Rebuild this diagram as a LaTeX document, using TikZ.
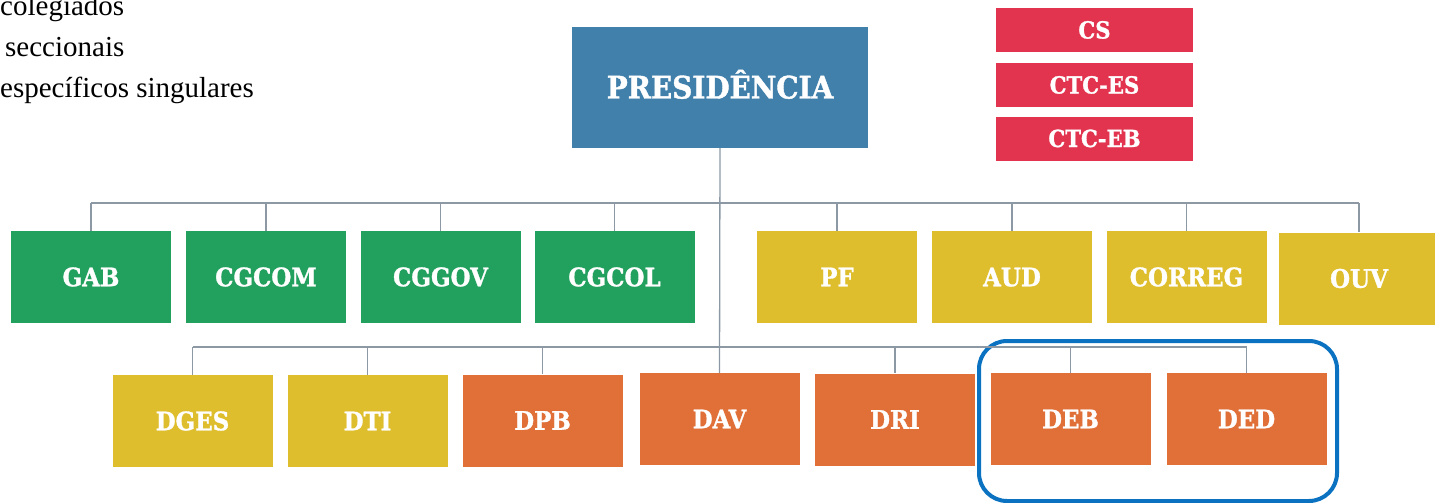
\documentclass[tikz,border=0pt]{standalone}
\usepackage{fontspec}
\setmainfont{DejaVu Serif}
\newfontfamily\boxfont{DejaVu Serif Condensed Bold}[FakeBold=1.2]
\newfontfamily\legendfont{Liberation Serif}
\definecolor{presblue}{RGB}{64,128,170}
\definecolor{cgreen}{RGB}{34,160,94}
\definecolor{cyellow}{RGB}{223,190,45}
\definecolor{corange}{RGB}{224,112,56}
\definecolor{cred}{RGB}{226,51,79}
\definecolor{outblue}{RGB}{10,114,192}
\definecolor{conngray}{RGB}{140,152,164}
\begin{document}
\begin{tikzpicture}[x=1pt,y=-1pt,
  box/.style={rectangle, inner sep=0pt, text=white, text height=18.5pt, text depth=0pt,
    font=\boxfont\fontsize{25.5}{28}\selectfont, minimum width=160pt, minimum height=92pt},
  gbox/.style={box, fill=cgreen},
  ybox/.style={box, fill=cyellow},
  obox/.style={box, fill=corange},
  rbox/.style={box, fill=cred, minimum width=197pt, minimum height=44pt, text height=17pt,
    font=\boxfont\fontsize{23.5}{26}\selectfont},
  presbox/.style={box, fill=presblue, minimum width=296pt, minimum height=121pt, text height=22pt,
    font=\boxfont\fontsize{31}{34}\selectfont},
  legend/.style={anchor=base west, inner sep=0pt, font=\legendfont\fontsize{29}{32}\selectfont},
  conn/.style={draw=conngray, line width=1.3pt},
  group/.style={draw=outblue, line width=4pt, rounded corners=28pt, rectangle, inner sep=0pt,
    minimum width=358pt, minimum height=160pt}
]
\useasboundingbox (0,0) rectangle (1435,503);

% legend (cut off at left edge)
\node[legend] (l1) at (0,16) {colegiados};
\node[legend] (l2) at (5,57) {seccionais};
\node[legend] (l3) at (0,97) {específicos singulares};

% presidency and councils
\node[presbox] (pres) at (720,87.5) {PRESIDÊNCIA};
\node[rbox] (cs) at (1094.5,30) {CS};
\node[rbox] (ctces) at (1094.5,85) {CTC-ES};
\node[rbox] (ctceb) at (1094.5,138.5) {CTC-EB};

% second row
\node[gbox] (gab) at (91,277) {GAB};
\node[gbox] (cgcom) at (266,277) {CGCOM};
\node[gbox] (cggov) at (440.5,277) {CGGOV};
\node[gbox] (cgcol) at (614.5,277) {CGCOL};
\node[ybox] (pf) at (837,277) {PF};
\node[ybox] (aud) at (1012,277) {AUD};
\node[ybox] (correg) at (1186.5,277) {CORREG};
\node[ybox] (ouv) at (1359,278.5) {OUV};

% third row
\node[ybox] (dges) at (192.5,421) {DGES};
\node[ybox] (dti) at (367.5,421) {DTI};
\node[obox] (dpb) at (542.5,420.5) {DPB};
\node[obox] (dav) at (719.5,419) {DAV};
\node[obox] (dri) at (895,419.5) {DRI};
\node[obox] (deb) at (1070.5,419) {DEB};
\node[obox] (ded) at (1246.5,419) {DED};

% group outline
\node[group] (grp) at (1158,421) {};

% connectors
\coordinate (busA) at (720,203);
\coordinate (busB) at (720,347);
\draw[conn] (pres.south) -- (dav.north);
\draw[conn] (gab.north |- busA) -- (ouv.north |- busA);
\foreach \n in {gab,cgcom,cggov,cgcol,pf,aud,correg,ouv}
  \draw[conn] (\n.north |- busA) -- (\n.north);
\draw[conn] (dges.north |- busB) -- (ded.north |- busB);
\foreach \n in {dges,dti,dpb,dri,deb,ded}
  \draw[conn] (\n.north |- busB) -- (\n.north);
\end{tikzpicture}
\end{document}
